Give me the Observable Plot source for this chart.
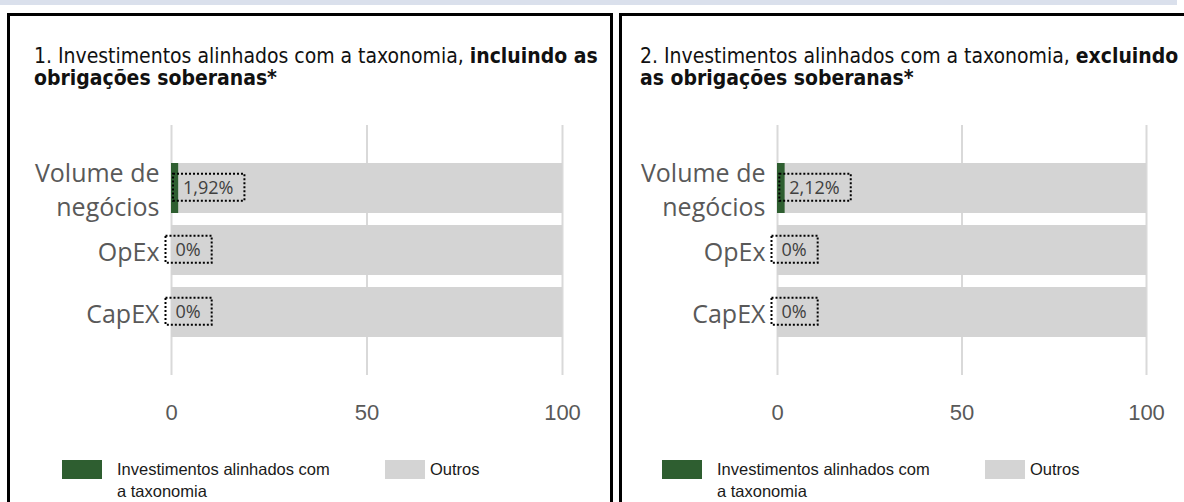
<!DOCTYPE html>
<html><head><meta charset="utf-8">
<script src="https://cdn.jsdelivr.net/npm/d3@7"></script>
<script src="https://cdn.jsdelivr.net/npm/@observablehq/plot@0.6"></script>
<style>
body{margin:0;width:1184px;height:502px;overflow:hidden;background:#fff;position:relative;font-family:"Noto Sans",sans-serif}
.band{position:absolute;left:0;top:0;width:1177px;height:5px;background:#dae0ec}
.panel{position:absolute;top:13px;height:520px;border:3px solid #000;border-bottom:none;box-sizing:border-box}
.title{position:absolute;font-family:"DejaVu Sans Condensed","DejaVu Sans",sans-serif;font-size:18px;line-height:22px;color:#111;white-space:nowrap}
.chart{position:absolute;top:115px}
.sw{position:absolute;width:40px;height:19px}
.lt{position:absolute;font-family:"Liberation Sans",Arial,sans-serif;font-size:16.5px;line-height:22px;color:#1a1a1a;white-space:nowrap}
</style></head>
<body>
<div class="band"></div>
<div class="panel" style="left:7px;width:606px"></div>
<div class="panel" style="left:619px;width:600px"></div>
<div id="t1" class="title" style="left:34px;top:45px"></div>
<div id="t2" class="title" style="left:640px;top:45px"></div>
<div id="c1" class="chart" style="left:12px"></div>
<div id="c2" class="chart" style="left:624px"></div>
<div id="l1"></div><div id="l2"></div>
<script>
const categories = ["Volume de negócios", "OpEx", "CapEX"];
const aligned1 = [1.92, 0, 0];
const aligned2 = [2.12, 0, 0];
const labels1 = ["1,92%", "0%", "0%"];
const labels2 = ["2,12%", "0%", "0%"];
const xTicks = [0, 50, 100];
const seriesNames = ["Investimentos alinhados com a taxonomia", "Outros"];
const seriesColors = ["#2e5e30", "#d4d4d4"];
const titles1 = ["1. Investimentos alinhados com a taxonomia, ", "incluindo as", "obrigações soberanas*"];
const titles2 = ["2. Investimentos alinhados com a taxonomia, ", "excluindo", "as obrigações soberanas*"];
const legendLines = ["Investimentos alinhados com", "a taxonomia"];

function setTitle(id, t) {
  const el = document.getElementById(id);
  el.innerHTML = "";
  const line1 = document.createElement("span");
  line1.append(t[0]);
  const b = document.createElement("b"); b.textContent = t[1]; line1.append(b);
  el.append(line1);
  el.append(document.createElement("br"));
  const b2 = document.createElement("b"); b2.textContent = t[2]; el.append(b2);
  return line1;
}
const ln1 = setTitle("t1", titles1);
setTitle("t2", titles2);
// fit the first title line to the reference width
const w1 = ln1.getBoundingClientRect().width;
const fs = Math.max(15, Math.min(21, 18 * 564 / w1));
document.querySelectorAll(".title").forEach(el => el.style.fontSize = fs + "px");

function wrap(d) {
  const i = d.lastIndexOf(" ");
  return d.length > 10 && i > 0 ? d.slice(0, i) + "\n" + d.slice(i + 1) : d;
}

function makeChart(aligned, labels, width, marginLeft, marginRight) {
  const rows = [];
  categories.forEach((c, i) => {
    rows.push({cat: c, series: seriesNames[0], value: aligned[i]});
    rows.push({cat: c, series: seriesNames[1], value: 100 - aligned[i]});
  });
  const lab = categories.map((c, i) => ({cat: c, value: aligned[i], label: labels[i]}));
  return Plot.plot({
    width, height: 325, marginLeft, marginRight, marginTop: 10, marginBottom: 65,
    style: {fontFamily: "'Open Sans', sans-serif", color: "#595959", background: "transparent", overflow: "visible"},
    x: {domain: [0, 100], axis: null},
    y: {domain: categories, paddingInner: 0.2, paddingOuter: 0.6, axis: null},
    color: {domain: seriesNames, range: seriesColors},
    marks: [
      Plot.ruleX(xTicks, {stroke: "#d9d9d9", strokeWidth: 2}),
      Plot.barX(rows, Plot.stackX({y: "cat", x: "value", fill: "series", order: seriesNames, inset: 0})),
      Plot.axisX(xTicks, {tickSize: 0, tickPadding: 29, fontSize: 22, fontFamily: "'Liberation Sans', Arial, sans-serif", fill: "#595959", label: null}),
      Plot.text(categories, {x: 0, y: d => d, text: d => wrap(d), dx: -12, textAnchor: "end", fontSize: 25, lineHeight: 1.35, fill: "#595959"}),
      Plot.text(lab, {x: "value", y: "cat", text: "label", dx: 4, textAnchor: "start", fontSize: 18, fill: "#404040", className: "dlabel"})
    ]
  });
}

function boxLabels(svg) {
  svg.querySelectorAll(".dlabel text").forEach(t => {
    const bb = t.getBBox();
    const r = document.createElementNS("http://www.w3.org/2000/svg", "rect");
    const cy = bb.y + bb.height / 2;
    r.setAttribute("x", bb.x - 10);
    r.setAttribute("y", cy - 13.5);
    r.setAttribute("width", bb.width + 21);
    r.setAttribute("height", 27);
    r.setAttribute("fill", "none");
    r.setAttribute("stroke", "#000");
    r.setAttribute("stroke-width", 2);
    r.setAttribute("stroke-dasharray", "2 2");
    if (t.getAttribute("transform")) r.setAttribute("transform", t.getAttribute("transform"));
    t.parentNode.insertBefore(r, t);
  });
}

const s1 = makeChart(aligned1, labels1, 598, 159, 48);
document.getElementById("c1").append(s1); boxLabels(s1);
const s2 = makeChart(aligned2, labels2, 560, 153, 38);
document.getElementById("c2").append(s2); boxLabels(s2);

function legend(id, left) {
  const host = document.getElementById(id);
  const items = [
    {cls: "sw", style: `left:${left}px;top:460px;background:${seriesColors[0]}`},
    {cls: "lt", style: `left:${left + 55}px;top:458px`, html: legendLines.join("<br>")},
    {cls: "sw", style: `left:${left + 323}px;top:460px;background:${seriesColors[1]}`},
    {cls: "lt", style: `left:${left + 368}px;top:458px`, html: seriesNames[1]}
  ];
  items.forEach(it => {
    const d = document.createElement("div");
    d.className = it.cls; d.setAttribute("style", it.style);
    if (it.html) d.innerHTML = it.html;
    host.append(d);
  });
}
legend("l1", 62);
legend("l2", 662);
</script>
</body></html>
